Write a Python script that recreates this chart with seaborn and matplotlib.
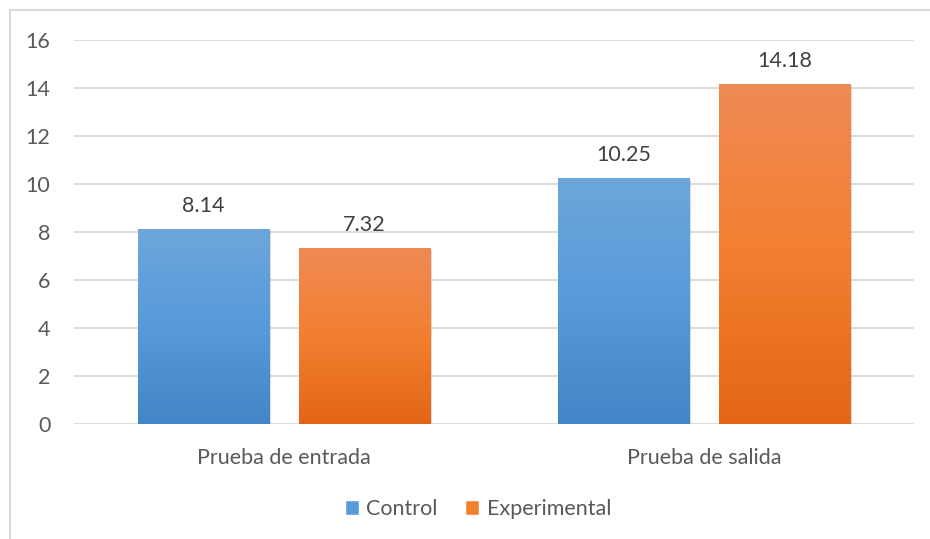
import numpy as np
import pandas as pd
import matplotlib
matplotlib.use("Agg")
import matplotlib.pyplot as plt
import matplotlib.patheffects as pe
from matplotlib.colors import LinearSegmentedColormap
from matplotlib.patches import Rectangle
import seaborn as sns

categories = ["Prueba de entrada", "Prueba de salida"]
series = ["Control", "Experimental"]
control = [8.14, 10.25]
experimental = [7.32, 14.18]
yticks = [0, 2, 4, 6, 8, 10, 12, 14, 16]

df = pd.DataFrame({
    "prueba": categories * 2,
    "grupo": [series[0]] * 2 + [series[1]] * 2,
    "valor": control + experimental,
})

sns.set_theme(style="white")
plt.rcParams["font.family"] = ["Lato", "DejaVu Sans"]
text_color = "#595959"
grid_color = "#D9D9D9"
fs = 15.5

fig = plt.figure(figsize=(9.3, 5.39), dpi=100)
ax = fig.add_axes([74 / 930, 1 - 424 / 539, 840 / 930, 384 / 539])

palette = {"Control": "#5B9BD5", "Experimental": "#ED7D31"}
sns.barplot(data=df, x="prueba", y="valor", hue="grupo", order=categories,
            hue_order=series, palette=palette, width=0.767, gap=0.186,
            ax=ax, legend=False, saturation=1)

ax.set_ylim(0, 16)
ax.set_xlim(-0.5, 1.5)
ax.set_yticks(yticks)
ax.set_yticklabels([str(t) for t in yticks])
ax.yaxis.grid(True, color=grid_color, linewidth=1.3)
ax.set_axisbelow(True)
for s in ax.spines.values():
    s.set_visible(False)
ax.set_xlabel("")
ax.set_ylabel("")
ax.tick_params(axis="y", length=0, pad=17, labelsize=fs, labelcolor=text_color)
ax.tick_params(axis="x", length=0, pad=17, labelsize=fs, labelcolor=text_color)

# vertical gradients, lighter at the top
gradients = {
    "Control": LinearSegmentedColormap.from_list("c", ["#4286C7", "#589ADA", "#6EA6DB"]),
    "Experimental": LinearSegmentedColormap.from_list("e", ["#E36616", "#F37F30", "#EF8A55"]),
}
grad = np.linspace(0, 1, 256).reshape(-1, 1)
for container, name in zip(ax.containers, series):
    for bar in container:
        x0, y0 = bar.get_x(), bar.get_y()
        w, h = bar.get_width(), bar.get_height()
        bar.set_path_effects([pe.SimplePatchShadow(offset=(1.5, -1.5), shadow_rgbFace="#000000", alpha=0.18),
                              pe.Normal()])
        im = ax.imshow(grad, extent=[x0, x0 + w, y0, y0 + h], origin="lower",
                       cmap=gradients[name], aspect="auto", zorder=bar.get_zorder() + 0.1)
        im.set_clip_path(bar)
        ax.annotate(f"{bar.get_height():.2f}", (x0 + w / 2, y0 + h),
                    xytext=(0, 16.5), textcoords="offset points", ha="center",
                    va="center", fontsize=fs, color="#404040")
ax.set_xlim(-0.5, 1.5)
ax.set_ylim(0, 16)

# legend below the axes
handles = [Rectangle((0, 0), 1, 1, facecolor=gradients[n](0.5)) for n in series]
fig.legend(handles, series, loc="center", bbox_to_anchor=(478 / 930, 1 - 509 / 539),
           ncol=2, frameon=False, fontsize=fs, labelcolor=text_color,
           handlelength=0.65, handleheight=0.65, handletextpad=0.35, columnspacing=1.3)

# outer chart border
fig.patches.append(Rectangle((10 / 930, -0.1), 1.2, 1 - 10 / 539 + 0.1,
                             transform=fig.transFigure, fill=False,
                             edgecolor=grid_color, linewidth=1.5))

fig.savefig("out.png", dpi=100)
